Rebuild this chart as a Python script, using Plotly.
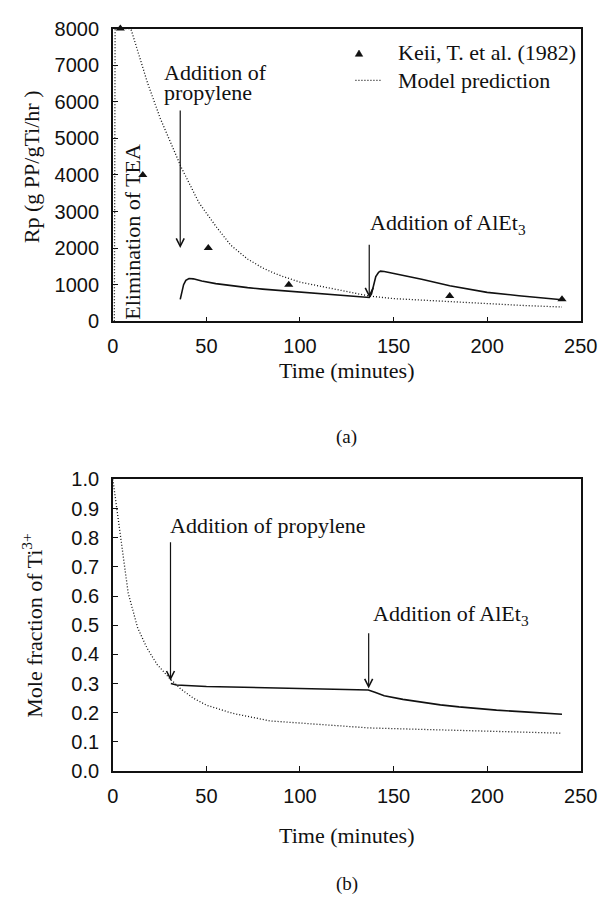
import plotly.graph_objects as go

# ---------------- data ----------------
# (a) polymerization rate
t_keii = [4, 16, 51, 94, 180, 240]
rp_keii = [8000, 4000, 2000, 1000, 690, 600]

t_model_a = [0.8, 1.2, 9.0, 9.9, 18.5, 25.3, 36.5, 46, 55, 63, 72, 80, 86, 90, 100,
             110, 120, 130, 137, 150, 165, 180, 200, 220, 240]
rp_model_a = [0, 8000, 8000, 7950, 6520, 5550, 4210, 3240, 2600, 2080, 1700, 1460, 1320,
              1240, 1070, 970, 870, 770, 690, 620, 575, 545, 480, 430, 390]

t_prop_a = [36, 36.8, 37.8, 39, 40.7, 43, 47.5, 55, 63, 72, 80, 90, 102, 115, 127, 137,
            138.2, 139.3, 140.5, 142, 143, 145, 150, 157, 165, 180, 200, 217, 240]
rp_prop_a = [600, 820, 1000, 1120, 1170, 1160, 1100, 1030, 970, 920, 880, 840, 790, 740,
             690, 650, 750, 1000, 1220, 1340, 1370, 1360, 1310, 1240, 1150, 970, 790, 700, 590]

# (b) mole fraction of Ti3+
t_model_b = [0, 2.2, 4.8, 8.2, 13.3, 18.4, 23.6, 30, 36, 43, 50, 64, 84, 104, 120, 137,
             165, 195, 240]
ti_model_b = [1.0, 0.90, 0.77, 0.61, 0.49, 0.42, 0.366, 0.32, 0.283, 0.25, 0.226, 0.198,
              0.172, 0.162, 0.155, 0.148, 0.143, 0.138, 0.13]

t_prop_b = [31, 34, 50, 64, 84, 104, 120, 136.5, 140, 145, 155, 165, 175, 185, 195, 205,
            220, 240]
ti_prop_b = [0.30, 0.295, 0.29, 0.288, 0.284, 0.281, 0.279, 0.278, 0.27, 0.258, 0.246,
             0.236, 0.227, 0.22, 0.214, 0.209, 0.203, 0.195]

x_ticks = [0, 50, 100, 150, 200, 250]
rp_ticks = [0, 1000, 2000, 3000, 4000, 5000, 6000, 7000, 8000]
ti_ticks = [0.0, 0.1, 0.2, 0.3, 0.4, 0.5, 0.6, 0.7, 0.8, 0.9, 1.0]

# ---------------- layout geometry ----------------
W, H = 616, 907
X0, X1 = 111, 597
TOP_Y0, TOP_Y1 = 18, 318
BOT_Y0, BOT_Y1 = 480, 779


def px(x):
    return x / W


def py(y):
    return 1 - y / H


SERIF = "Liberation Serif"
SANS = "Liberation Sans"
INK = "#111111"
DOTS = "1px,2px"

fig = go.Figure()

dot = dict(color=INK, width=1.3, dash=DOTS)
solid = dict(color=INK, width=1.6)

fig.add_trace(go.Scatter(x=t_model_a, y=rp_model_a, mode="lines", line=dot,
                         xaxis="x", yaxis="y", showlegend=False))
fig.add_trace(go.Scatter(x=t_prop_a, y=rp_prop_a, mode="lines", line=solid,
                         xaxis="x", yaxis="y", showlegend=False))
fig.add_trace(go.Scatter(x=t_keii, y=rp_keii, mode="markers",
                         marker=dict(symbol="triangle-up", size=8, color=INK),
                         cliponaxis=False, xaxis="x", yaxis="y", showlegend=False))

fig.add_trace(go.Scatter(x=t_model_b, y=ti_model_b, mode="lines", line=dot,
                         xaxis="x2", yaxis="y2", showlegend=False))
fig.add_trace(go.Scatter(x=t_prop_b, y=ti_prop_b, mode="lines", line=solid,
                         xaxis="x2", yaxis="y2", showlegend=False))

axis_common = dict(showgrid=False, zeroline=False, showline=True, linecolor=INK,
                   linewidth=1.5, mirror=True, ticks="inside", ticklen=5,
                   tickcolor=INK, tickwidth=1.2,
                   tickfont=dict(family=SANS, size=20, color=INK))

fig.update_layout(
    width=W, height=H, margin=dict(l=0, r=0, t=0, b=0),
    paper_bgcolor="white", plot_bgcolor="white",
    xaxis=dict(domain=[px(X0), px(X1)], range=[0, 250], tickvals=x_ticks,
               anchor="y", ticklabelstandoff=6, **axis_common),
    yaxis=dict(domain=[py(TOP_Y1), py(TOP_Y0)], range=[0, 8000], tickvals=rp_ticks,
               anchor="x", ticklabelstandoff=8, **axis_common),
    xaxis2=dict(domain=[px(X0), px(X1)], range=[0, 250], tickvals=x_ticks,
                anchor="y2", ticklabelstandoff=6, **axis_common),
    yaxis2=dict(domain=[py(BOT_Y1), py(BOT_Y0)], range=[0, 1.0], tickvals=ti_ticks,
                tickformat=".1f", anchor="x2", ticklabelstandoff=8, **axis_common),
)

ann = []


def text(s, x, y, xref="paper", yref="paper", xanchor="center", angle=0, size=22):
    ann.append(dict(text=s, x=x, y=y, xref=xref, yref=yref, xanchor=xanchor,
                    yanchor="middle", textangle=angle, showarrow=False,
                    font=dict(family=SERIF, size=size, color=INK)))


def arrow(x, y_tail, y_tip, xr, yr):
    ann.append(dict(text="", x=x, y=y_tip, ax=x, ay=y_tail, xref=xr, yref=yr,
                    axref=xr, ayref=yr, showarrow=True, arrowhead=5, arrowsize=1.3,
                    arrowwidth=1.2, arrowcolor=INK, standoff=0))


# axis titles and panel labels
text("Rp (g PP/gTi/hr )", px(26), py(160), angle=-90)
text("Time (minutes)", px(354), py(368))
text("(a)", px(354), py(437), size=19)
text("Mole fraction of Ti<sup>3+</sup>", px(27), py(630), angle=-90)
text("Time (minutes)", px(354), py(845))
text("(b)", px(354), py(895), size=19)

# panel (a) annotations
text("Addition of", 26, 6810, "x", "y", xanchor="left")
text("propylene", 26, 6240, "x", "y", xanchor="left")
arrow(36, 5800, 2000, "x", "y")
text("Addition of AlEt<sub>3</sub>", 136.5, 2670, "x", "y", xanchor="left")
arrow(137, 2130, 650, "x", "y")
text("Elimination of TEA", 10.8, 2450, "x", "y", angle=-90)

# panel (b) annotations
text("Addition of propylene", 29.4, 0.842, "x2", "y2", xanchor="left")
arrow(30.8, 0.79, 0.31, "x2", "y2")
text("Addition of AlEt<sub>3</sub>", 138, 0.534, "x2", "y2", xanchor="left")
arrow(136.7, 0.478, 0.283, "x2", "y2")

# legend (panel a)
text("Keii, T. et al. (1982)", px(405), py(43), xanchor="left")
text("Model prediction", px(405), py(71), xanchor="left")

fig.update_layout(annotations=ann)

shapes = [
    dict(type="line", xref="paper", yref="paper", x0=px(363), x1=px(391),
         y0=py(71), y1=py(71), line=dict(color=INK, width=1.3, dash=DOTS)),
    dict(type="path", xref="paper", yref="paper",
         path="M {a},{b} L {c},{b} L {d},{e} Z".format(
             a=px(362.8), b=py(46.5), c=px(370.6), d=px(366.7), e=py(40)),
         fillcolor=INK, line=dict(color=INK, width=0.5)),
]
fig.update_layout(shapes=shapes)

fig.write_html("out.html")
